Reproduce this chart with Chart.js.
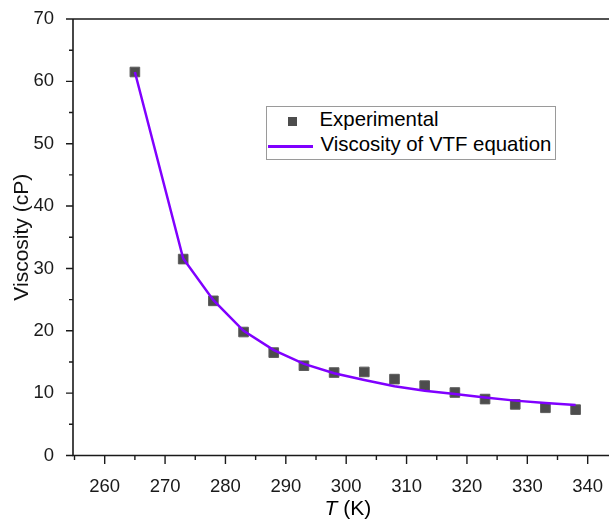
<!DOCTYPE html>
<html>
<head>
<meta charset="utf-8">
<script src="https://cdn.jsdelivr.net/npm/chart.js@4.4.0/dist/chart.umd.min.js"></script>
<style>
  html, body { margin: 0; padding: 0; background: #ffffff; }
  #wrap { position: relative; width: 609px; height: 523px; overflow: hidden;
          font-family: Arial, "Liberation Sans", sans-serif; color: #000; }
  #chart { position: absolute; left: 0; top: 0; }
  #legend { position: absolute; left: 266px; top: 106px; width: 290px; height: 54px;
            border: 1px solid #9a9a9a; box-sizing: border-box; background: #fff; }
  #legend .mk { position: absolute; left: 21.2px; top: 10.2px; width: 9px; height: 9px; }
  #legend .ln { position: absolute; left: 1.3px; top: 38.4px; width: 45px; height: 2.5px; }
  #legend .tx { position: absolute; font-size: 20.4px; line-height: 20px; white-space: nowrap; }
  #xtitle { position: absolute; left: 324.5px; top: 497.2px; font-size: 21px; line-height: 21px;
            white-space: nowrap; color: #000; }
</style>
</head>
<body>
<div id="wrap">
  <canvas id="chart" width="609" height="523"></canvas>
  <div id="legend">
    <div class="mk" id="mk"></div>
    <div class="tx" style="left:52.5px; top:2.2px;" id="lg1"></div>
    <div class="ln" id="ln"></div>
    <div class="tx" style="left:53.5px; top:26.5px;" id="lg2"></div>
  </div>
  <div id="xtitle"><i>T</i> (K)</div>
</div>
<script>
// ---- data ----
const temperatureK   = [265, 273, 278, 283, 288, 293, 298, 303, 308, 313, 318, 323, 328, 333, 338];
const experimentalCp = [61.5, 31.5, 24.8, 19.8, 16.5, 14.4, 13.3, 13.4, 12.25, 11.2, 10.1, 9.05, 8.2, 7.65, 7.35];
const vtfCp          = [61.5, 31.6, 24.9, 20.0, 16.9, 14.7, 13.2, 12.1, 11.1, 10.4, 9.85, 9.3, 8.8, 8.4, 8.1];
const xTickLabels    = [260, 270, 280, 290, 300, 310, 320, 330, 340];
const yTickLabels    = [0, 10, 20, 30, 40, 50, 60, 70];
const seriesNames    = ['Experimental', 'Viscosity of VTF equation'];
const yAxisTitle     = 'Viscosity (cP)';

const pointColor = '#4d4d4d';
const lineColor  = '#8000ff';

document.getElementById('lg1').textContent = seriesNames[0];
document.getElementById('lg2').textContent = seriesNames[1];
document.getElementById('mk').style.background = pointColor;
document.getElementById('ln').style.background = lineColor;

const axisFrame = {
  id: 'axisFrame',
  afterDraw(chart) {
    const { ctx, chartArea: a, scales: { x, y } } = chart;
    ctx.save();
    ctx.strokeStyle = '#1a1a1a';
    ctx.lineWidth = 1.6;
    ctx.beginPath();
    ctx.moveTo(a.left, a.top); ctx.lineTo(chart.width, a.top);
    ctx.moveTo(a.left, a.top); ctx.lineTo(a.left, a.bottom); ctx.lineTo(chart.width, a.bottom);
    ctx.stroke();
    ctx.lineWidth = 1.4;
    ctx.beginPath();
    x.ticks.forEach(t => {
      const px = x.getPixelForValue(t.value);
      const major = xTickLabels.includes(t.value);
      ctx.moveTo(px, a.bottom); ctx.lineTo(px, a.bottom + (major ? 8.5 : 4.5));
    });
    y.ticks.forEach(t => {
      const py = y.getPixelForValue(t.value);
      const major = yTickLabels.includes(t.value);
      ctx.moveTo(a.left, py); ctx.lineTo(a.left - (major ? 7 : 4), py);
    });
    ctx.stroke();
    ctx.restore();
  }
};

const tickFont = { family: 'Arial, "Liberation Sans", sans-serif', size: 18.5 };

new Chart(document.getElementById('chart'), {
  type: 'line',
  data: {
    datasets: [
      {
        label: seriesNames[1],
        data: temperatureK.map((t, i) => ({ x: t, y: vtfCp[i] })),
        borderColor: lineColor,
        borderWidth: 2.5,
        pointRadius: 0,
        tension: 0,
        fill: false,
        order: 0
      },
      {
        label: seriesNames[0],
        data: temperatureK.map((t, i) => ({ x: t, y: experimentalCp[i] })),
        showLine: false,
        pointStyle: 'rect',
        pointRadius: 6.8,
        pointBackgroundColor: pointColor,
        pointBorderColor: '#5c5c5c',
        pointBorderWidth: 1,
        order: 1
      }
    ]
  },
  options: {
    responsive: false,
    animation: false,
    devicePixelRatio: 1,
    layout: { padding: { top: 19, left: 0, right: 0, bottom: 0 }, autoPadding: false },
    plugins: { legend: { display: false }, tooltip: { enabled: false } },
    scales: {
      x: {
        type: 'linear',
        min: 254.75,
        max: 343.53,
        grid: { display: false },
        border: { display: false },
        ticks: {
          stepSize: 5,
          includeBounds: false,
          autoSkip: false,
          maxRotation: 0,
          padding: 12,
          color: '#1a1a1a',
          font: tickFont,
          callback: v => (xTickLabels.includes(v) ? String(v) : '')
        },
        afterFit: s => { s.height = 67.5; s.paddingLeft = 0; s.paddingRight = 0; }
      },
      y: {
        type: 'linear',
        min: 0,
        max: 70,
        grid: { display: false },
        border: { display: false },
        ticks: {
          stepSize: 5,
          autoSkip: false,
          padding: 11,
          color: '#1a1a1a',
          font: tickFont,
          callback: v => (yTickLabels.includes(v) ? String(v) : '')
        },
        title: {
          display: true,
          text: yAxisTitle,
          color: '#111',
          font: { family: 'Arial, "Liberation Sans", sans-serif', size: 21 },
          padding: { top: 10, bottom: 0 }
        },
        afterFit: s => { s.width = 73; s.paddingTop = 0; s.paddingBottom = 0; }
      }
    }
  },
  plugins: [axisFrame]
});
</script>
</body>
</html>
